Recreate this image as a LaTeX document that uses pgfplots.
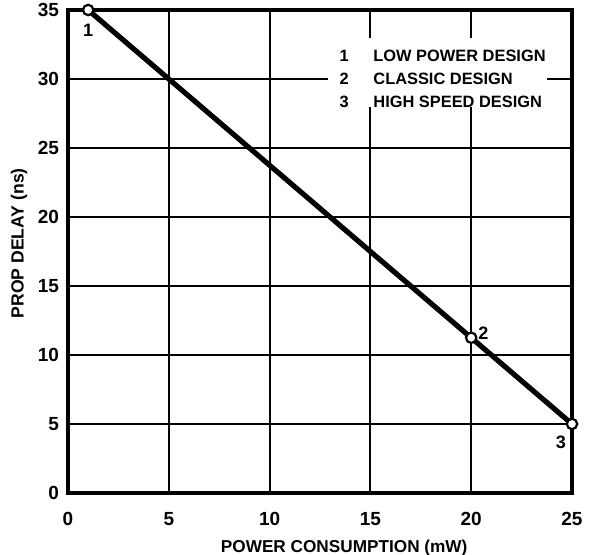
\documentclass[border=0pt]{standalone}
\usepackage{fontspec}
\setmainfont{Liberation Sans}
\usepackage{pgfplots}
\pgfplotsset{compat=1.18}
\begin{document}
\begin{tikzpicture}
\begin{axis}[
  scale only axis,
  width=252pt, height=241.5pt,
  xmin=0, xmax=25, ymin=0, ymax=35,
  xtick={0,5,...,25}, ytick={0,5,...,35},
  grid=major,
  major grid style={black, line width=0.95pt},
  axis line style={black, line width=1.7pt},
  major tick length=0pt,
  tick label style={font=\fontsize{9.5}{11}\selectfont\bfseries},
  /pgf/number format/assume math mode=true,
  xticklabel style={anchor=center, yshift=-13pt},
  yticklabel style={anchor=east, xshift=-1pt},
  xlabel={\fontsize{8.6}{10}\selectfont\bfseries POWER CONSUMPTION (mW)},
  ylabel={\fontsize{8.8}{10}\selectfont\bfseries PROP DELAY (ns)},
  xlabel style={at={(axis description cs:0.548,-0.1139)}, anchor=center},
  ylabel style={at={(axis description cs:-0.0972,0.517)}, anchor=center},
  clip=false,
]
\coordinate (sw) at (rel axis cs:0,0);
\coordinate (ne) at (rel axis cs:1,1);
\fill[white] (axis cs:12.9,28.0) rectangle (axis cs:23.76,33.0);
\addplot[black, line width=2.6pt, mark=*, mark size=2.6pt,
  mark options={fill=white, draw=black, line width=1.1pt}]
  coordinates {(1,35) (20,11.25) (25,5)};
\node[font=\fontsize{9}{10}\selectfont\bfseries] at (axis cs:1.0,33.55) {1};
\node[font=\fontsize{9}{10}\selectfont\bfseries] at (axis cs:20.6,11.6) {2};
\node[font=\fontsize{9}{10}\selectfont\bfseries] at (axis cs:24.45,3.7) {3};
\begin{scope}[every node/.style={font=\fontsize{8.2}{10}\selectfont\bfseries, anchor=west, inner sep=0pt}]
\node at (axis cs:13.45,31.67) {1};
\node at (axis cs:15.13,31.67) {LOW POWER DESIGN};
\node at (axis cs:13.45,30.0) {2};
\node at (axis cs:15.13,30.0) {CLASSIC DESIGN};
\node at (axis cs:13.45,28.33) {3};
\node at (axis cs:15.13,28.33) {HIGH SPEED DESIGN};
\end{scope}
\end{axis}
\pgfresetboundingbox
\path ([xshift=-34pt,yshift=-31pt]sw) rectangle ([xshift=12pt,yshift=5pt]ne);
\end{tikzpicture}
\end{document}
